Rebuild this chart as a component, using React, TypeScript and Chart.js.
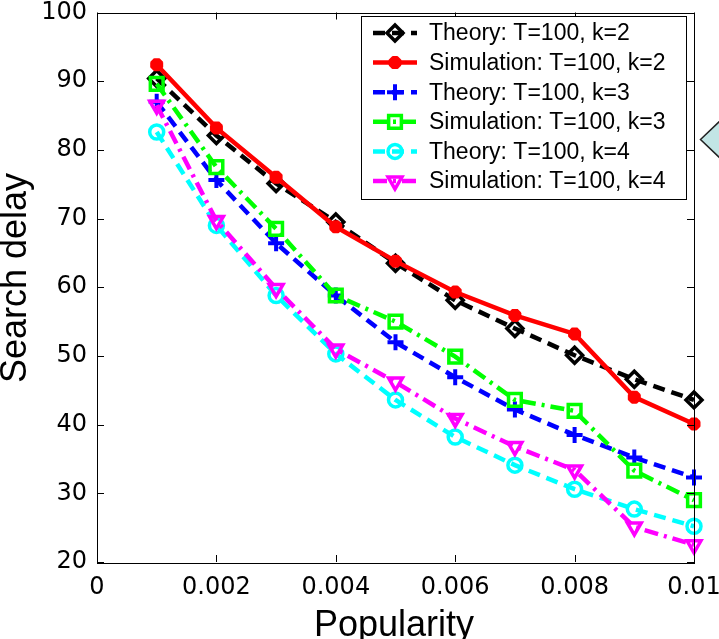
import React, { useEffect, useRef } from 'react';
import { Chart, registerables } from 'chart.js';
import { drawPoint } from 'chart.js/helpers';

Chart.register(...registerables);

// ---- data ----
const popularity = [0.001, 0.002, 0.003, 0.004, 0.005, 0.006, 0.007, 0.008, 0.009, 0.01];
const xTickValues = [0, 0.002, 0.004, 0.006, 0.008, 0.01];
const xTickLabels = ['0', '0.002', '0.004', '0.006', '0.008', '0.01'];
const yTickValues = [20, 30, 40, 50, 60, 70, 80, 90, 100];
const yTickLabels = ['20', '30', '40', '50', '60', '70', '80', '90', '100'];

const theoryK2 = [90.4, 82.1, 75.1, 69.5, 63.5, 58.1, 54.0, 50.1, 46.6, 43.6];
const simK2 = [92.4, 83.2, 76.0, 68.8, 63.8, 59.3, 55.9, 53.2, 44.0, 40.1];
const theoryK3 = [87.0, 75.6, 66.4, 58.8, 52.0, 46.9, 42.2, 38.5, 35.2, 32.3];
const simK3 = [89.6, 77.5, 68.5, 58.8, 55.0, 49.9, 43.6, 42.0, 33.3, 29.0];
const theoryK4 = [82.6, 69.0, 58.8, 50.3, 43.6, 38.2, 34.1, 30.6, 27.7, 25.2];
const simK4 = [86.5, 69.7, 59.8, 51.0, 46.2, 40.9, 36.8, 33.4, 25.1, 22.5];

const seriesLabels = [
  'Theory: T=100, k=2',
  'Simulation: T=100, k=2',
  'Theory: T=100, k=3',
  'Simulation: T=100, k=3',
  'Theory: T=100, k=4',
  'Simulation: T=100, k=4',
];
const seriesValues = [theoryK2, simK2, theoryK3, simK3, theoryK4, simK4];

const xTitle = 'Popularity';
const yTitle = 'Search delay';

// ---- styles ----
const seriesStyles = [
  { color: '#000000', dash: [12, 7], point: 'rectRot', radius: 8, rot: 0, fill: 'rgba(0,0,0,0)', bw: 3.5 },
  { color: '#ff0000', dash: [], point: 'star', radius: 6.5, rot: 0, fill: '#ff0000', bw: 5 },
  { color: '#0000ff', dash: [12, 7], point: 'cross', radius: 8, rot: 0, fill: 'rgba(0,0,0,0)', bw: 4 },
  { color: '#00ff00', dash: [14, 6, 3, 6], point: 'rect', radius: 9, rot: 0, fill: 'rgba(0,0,0,0)', bw: 3.5 },
  { color: '#00ffff', dash: [12, 7], point: 'circle', radius: 7, rot: 0, fill: 'rgba(0,0,0,0)', bw: 3.5 },
  { color: '#ff00ff', dash: [14, 6, 3, 6], point: 'triangle', radius: 8, rot: 180, fill: 'rgba(0,0,0,0)', bw: 3.5 },
];

const LINE_W = 4.5;
const TICK_FONT = { family: '"DejaVu Sans", sans-serif', size: 24 };

const decorPlugin = {
  id: 'matlabDecor',
  afterDatasetsDraw(chart: any) {
    const { ctx, chartArea } = chart;
    const { left, right, top, bottom } = chartArea;
    const xs = chart.scales.x;
    const ys = chart.scales.y;
    ctx.save();
    // frame
    ctx.strokeStyle = '#000';
    ctx.lineWidth = 1;
    ctx.setLineDash([]);
    ctx.strokeRect(Math.round(left) + 0.5, Math.round(top) + 0.5, Math.round(right - left), Math.round(bottom - top));
    const tl = 7;
    ctx.beginPath();
    xTickValues.forEach((v) => {
      const px = Math.round(xs.getPixelForValue(v)) + 0.5;
      ctx.moveTo(px, bottom);
      ctx.lineTo(px, bottom - tl);
      ctx.moveTo(px, top);
      ctx.lineTo(px, top + tl);
    });
    yTickValues.forEach((v) => {
      const py = Math.round(ys.getPixelForValue(v)) + 0.5;
      ctx.moveTo(left, py);
      ctx.lineTo(left + tl, py);
      ctx.moveTo(right, py);
      ctx.lineTo(right - tl, py);
    });
    ctx.stroke();

    // legend
    const bx = 361.5, by = 16.5, bw = 325, bh = 183;
    ctx.fillStyle = '#fff';
    ctx.fillRect(bx, by, bw, bh);
    ctx.strokeStyle = '#000';
    ctx.lineWidth = 1;
    ctx.strokeRect(bx, by, bw, bh);
    ctx.font = '23px "Liberation Sans", Arial, sans-serif';
    ctx.textBaseline = 'middle';
    ctx.textAlign = 'left';
    chart.data.datasets.forEach((ds: any, i: number) => {
      const st = seriesStyles[i];
      const y = 33 + i * 29.6;
      ctx.save();
      ctx.strokeStyle = st.color;
      ctx.lineWidth = LINE_W;
      ctx.setLineDash(st.dash);
      ctx.beginPath();
      ctx.moveTo(373, y);
      ctx.lineTo(417, y);
      ctx.stroke();
      ctx.setLineDash([]);
      ctx.lineWidth = st.bw;
      ctx.fillStyle = st.fill;
      drawPoint(ctx, { pointStyle: st.point, radius: st.radius, rotation: st.rot, borderWidth: st.bw } as any, 395, y);
      ctx.restore();
      ctx.fillStyle = '#000';
      ctx.fillText(ds.label, 429, y + 1);
    });

    // axis titles
    ctx.fillStyle = '#000';
    ctx.font = '36px "Liberation Sans", Arial, sans-serif';
    ctx.textAlign = 'center';
    ctx.textBaseline = 'alphabetic';
    ctx.fillText(xTitle, 394, 636);
    ctx.save();
    ctx.translate(26, 278);
    ctx.rotate(-Math.PI / 2);
    ctx.fillText(yTitle, 0, 0);
    ctx.restore();

    // callout arrow at the right edge
    ctx.beginPath();
    ctx.moveTo(700.5, 139.5);
    ctx.lineTo(722, 119);
    ctx.lineTo(722, 160);
    ctx.closePath();
    ctx.fillStyle = '#c2e5e5';
    ctx.fill();
    ctx.strokeStyle = '#222';
    ctx.lineWidth = 1.5;
    ctx.stroke();
    ctx.restore();
  },
};

export default function App() {
  const ref = useRef<HTMLCanvasElement | null>(null);
  useEffect(() => {
    if (!ref.current) return;
    const datasets = seriesValues.map((vals, i) => {
      const st = seriesStyles[i];
      return {
        label: seriesLabels[i],
        data: popularity.map((x, j) => ({ x, y: vals[j] })),
        borderColor: st.color,
        backgroundColor: st.fill,
        borderWidth: LINE_W,
        borderDash: st.dash,
        pointStyle: st.point,
        pointRadius: st.radius,
        pointRotation: st.rot,
        pointBorderWidth: st.bw,
        pointBorderColor: st.color,
        pointBackgroundColor: st.fill,
        tension: 0,
        fill: false,
        clip: false,
        order: seriesValues.length - i,
      };
    });
    const chart = new Chart(ref.current, {
      type: 'line',
      data: { datasets },
      options: {
        animation: false,
        responsive: false,
        maintainAspectRatio: false,
        layout: { padding: { left: 0, top: 12, right: 25, bottom: 0 } },
        plugins: { legend: { display: false }, tooltip: { enabled: false } },
        scales: {
          x: {
            type: 'linear',
            min: 0,
            max: 0.01,
            grid: { display: false, drawTicks: false },
            border: { display: false },
            afterBuildTicks: (s: any) => {
              s.ticks = xTickValues.map((v) => ({ value: v }));
            },
            afterFit: (s: any) => {
              s.height = 77;
              s.paddingLeft = 0;
              s.paddingRight = 0;
            },
            ticks: {
              autoSkip: false,
              maxRotation: 0,
              minRotation: 0,
              padding: 11,
              color: '#000',
              font: TICK_FONT,
              callback: (_v: any, i: number) => xTickLabels[i],
            },
          },
          y: {
            type: 'linear',
            min: 20,
            max: 100,
            grid: { display: false, drawTicks: false },
            border: { display: false },
            afterBuildTicks: (s: any) => {
              s.ticks = yTickValues.map((v) => ({ value: v }));
            },
            afterFit: (s: any) => {
              s.width = 97;
              s.paddingTop = 0;
              s.paddingBottom = 0;
            },
            ticks: {
              autoSkip: false,
              padding: 10,
              color: '#000',
              font: TICK_FONT,
              callback: (_v: any, i: number) => yTickLabels[i],
            },
          },
        },
      },
      plugins: [decorPlugin],
    } as any);
    return () => chart.destroy();
  }, []);
  return (
    <div style={{ position: 'absolute', left: 0, top: 0, width: 719, height: 639, background: '#fff' }}>
      <canvas ref={ref} width={719} height={639} style={{ display: 'block', width: 719, height: 639 }} />
    </div>
  );
}
